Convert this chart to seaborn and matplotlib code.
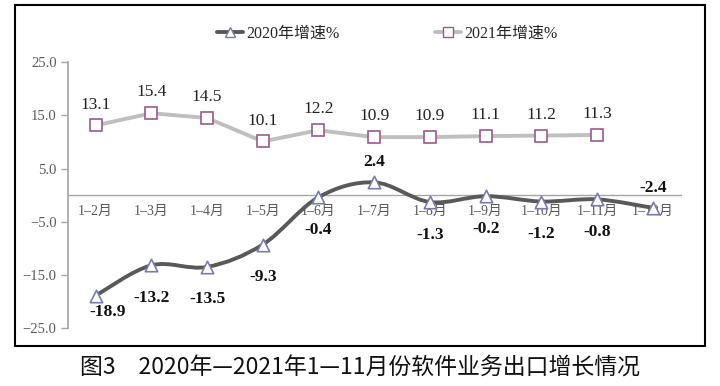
import numpy as np
import pandas as pd
import matplotlib
matplotlib.use("Agg")
import matplotlib.pyplot as plt
from matplotlib.path import Path
from matplotlib.patches import PathPatch, Rectangle
from matplotlib.lines import Line2D
import seaborn as sns

months = ["1–2月", "1–3月", "1–4月", "1–5月", "1–6月", "1–7月",
          "1–8月", "1–9月", "1–10月", "1–11月", "1–12月"]
growth_2020 = [-18.9, -13.2, -13.5, -9.3, -0.4, 2.4, -1.3, -0.2, -1.2, -0.8, -2.4]
growth_2021 = [13.1, 15.4, 14.5, 10.1, 12.2, 10.9, 10.9, 11.1, 11.2, 11.3]
y_ticks = [25, 15, 5, -5, -15, -25]

sns.set_theme(style="white")
serif = ["Liberation Serif", "Noto Sans CJK SC"]
plt.rcParams["font.family"] = serif
plt.rcParams["axes.unicode_minus"] = True

df20 = pd.DataFrame({"x": np.arange(len(growth_2020)), "y": growth_2020})
df21 = pd.DataFrame({"x": np.arange(len(growth_2021)), "y": growth_2021})

fig = plt.figure(figsize=(7.2, 3.86), dpi=100)
ax = fig.add_axes([0.094, 0.150, 0.853, 0.689])

dark = "#595959"
light = "#bfbfbf"
tri_edge = "#7b7bb0"
sq_edge = "#9b5a8c"

# 2021 straight line
sns.lineplot(data=df21, x="x", y="y", ax=ax, color=light, linewidth=2.8,
             marker="s", markersize=9, markerfacecolor="white",
             markeredgecolor=sq_edge, markeredgewidth=1.2, zorder=3)

# 2020 smoothed line (catmull-rom style bezier through the data points)
xs = df20["x"].to_numpy(float)
ys = df20["y"].to_numpy(float)
pts = np.column_stack([xs, ys])
verts = [pts[0]]
codes = [Path.MOVETO]
for i in range(len(pts) - 1):
    p0 = pts[i - 1] if i > 0 else pts[i]
    p1, p2 = pts[i], pts[i + 1]
    p3 = pts[i + 2] if i + 2 < len(pts) else pts[i + 1]
    c1 = p1 + (p2 - p0) / 6.0
    c2 = p2 - (p3 - p1) / 6.0
    verts += [c1, c2, p2]
    codes += [Path.CURVE4] * 3
ax.add_patch(PathPatch(Path(verts, codes), facecolor="none", edgecolor=dark,
                       linewidth=2.8, transform=ax.transData, zorder=3))
sns.scatterplot(data=df20, x="x", y="y", ax=ax, marker="^", s=80,
                color="white", edgecolor=tri_edge, linewidth=1.2, zorder=4)

# labels
for x, y in zip(df21["x"], df21["y"]):
    ax.text(x, y + 2.4, f"{y:.1f}", ha="center", va="bottom",
            fontsize=12.5, color="#222222")
for x, y in zip(df20["x"], df20["y"]):
    if y > 1 or x == len(growth_2020) - 1:
        ax.text(x, y + 2.3, f"{y:.1f}", ha="center", va="bottom",
                fontsize=12.5, fontweight="bold", color="#111111")
    elif x == 0:
        ax.text(x + 0.22, y - 1.6, f"{y:.1f}", ha="center", va="top",
                fontsize=12.5, fontweight="bold", color="#111111")
    else:
        ax.text(x, y - 4.6, f"{y:.1f}", ha="center", va="top",
                fontsize=12.5, fontweight="bold", color="#111111")

ax.axhline(0, color="#a6a6a6", linewidth=1.0, zorder=1)
for i, m in enumerate(months):
    ax.text(i, -1.8, m, ha="center", va="top", fontsize=10, color="#595959")

ax.set_xlim(-0.5, 10.52)
ax.set_ylim(-25, 25)
ax.set_yticks(y_ticks)
ax.set_yticklabels([f"{v:.1f}".replace("-", "−") for v in y_ticks],
                   fontsize=10.5, color="#595959")
ax.set_xticks([])
ax.set_xlabel("")
ax.set_ylabel("")
for s in ["top", "right", "bottom"]:
    ax.spines[s].set_visible(False)
ax.spines["left"].set_color("#a6a6a6")
ax.tick_params(axis="y", left=True, length=5, color="#a6a6a6", width=1, pad=3)

handles = [
    Line2D([], [], color=dark, linewidth=2.8, marker="^", markersize=7,
           markerfacecolor="white", markeredgecolor=tri_edge),
    Line2D([], [], color=light, linewidth=2.8, marker="s", markersize=7,
           markerfacecolor="white", markeredgecolor=sq_edge),
]
fig.legend(handles, ["2020年增速%", "2021年增速%"], loc="center",
           bbox_to_anchor=(0.538, 0.912), ncol=2, frameon=False,
           fontsize=11.5, handlelength=1.6, columnspacing=6.0, handletextpad=0.2)

fig.add_artist(Rectangle((15 / 720, 1 - 346 / 386), 690 / 720, 341 / 386,
                         transform=fig.transFigure, fill=False,
                         edgecolor="black", linewidth=1.5))
fig.text(0.5, 1 - 368 / 386, "图3　2020年—2021年1—11月份软件业务出口增长情况",
         ha="center", va="center", fontsize=16.5,
         family=["Noto Sans CJK SC", "DejaVu Sans"], color="#111111")

fig.savefig("out.png", dpi=100)
